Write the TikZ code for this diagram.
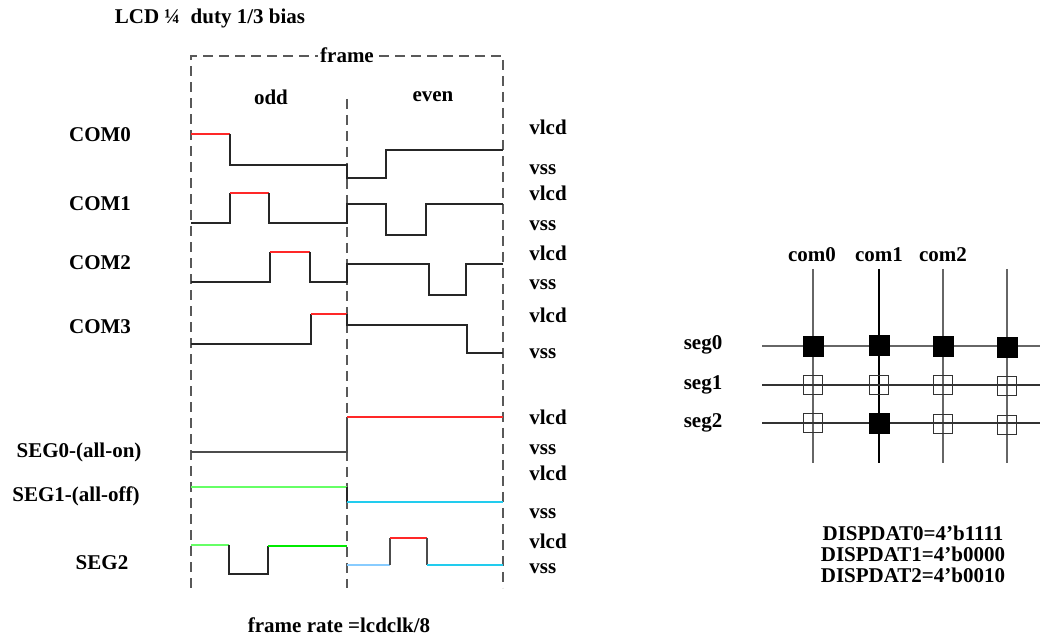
\documentclass[tikz,border=0pt]{standalone}
\usepackage{fontspec}
\setmainfont{Liberation Serif}
\usetikzlibrary{arrows}
\definecolor{lgreen}{RGB}{102,255,102}
\definecolor{dgreen}{RGB}{0,235,0}
\definecolor{wcyan}{RGB}{34,204,238}
\definecolor{lblue}{RGB}{136,204,255}
\definecolor{wred}{RGB}{255,40,40}
\begin{document}
\begin{tikzpicture}[x=0.5pt,y=-0.5pt,
  every node/.style={font=\bfseries\fontsize{10.5}{12}\selectfont,inner sep=0pt},
  frameline/.style={-,line width=0.7pt,black!65,dash pattern=on 5pt off 3pt},
  wave/.style={-,line width=0.6pt,black!85},
  lvl/.style={anchor=west},
  oncell/.style={draw=black,fill=black,minimum size=10pt},
  offcell/.style={draw=black!80,line width=0.6pt,minimum size=9.5pt},
  gridline/.style={-,line width=0.7pt,black!60}]
\useasboundingbox (0,0) rectangle (1040,635);
\node (title) at (210,18) {LCD ¼\ \ duty 1/3 bias};
\draw[frameline] (191,588) -- (191,56) -- (503,56) -- (503,588);
\draw[frameline] (347,99) -- (347,588);
\node[fill=white,inner xsep=1pt] (frame) at (347,55) {frame};
\node (odd) at (271,97) {odd};
\node (even) at (433,97) {even};
\node (com0) at (100,135) {COM0};
\node (com1) at (100,204) {COM1};
\node (com2) at (100,263) {COM2};
\node (com3) at (100,327) {COM3};
\node (seg0) at (79,452) {SEG0-(all-on)};
\node (seg1) at (76,496) {SEG1-(all-off)};
\node (seg2) at (102,563) {SEG2};
\node[lvl] (vlcd0) at (529,127) {vlcd};
\node[lvl] (vss0) at (529,170) {vss};
\node[lvl] (vlcd1) at (529,193) {vlcd};
\node[lvl] (vss1) at (529,226) {vss};
\node[lvl] (vlcd2) at (529,253) {vlcd};
\node[lvl] (vss2) at (529,285) {vss};
\node[lvl] (vlcd3) at (529,315) {vlcd};
\node[lvl] (vss3) at (529,354) {vss};
\node[lvl] (vlcd4) at (529,417) {vlcd};
\node[lvl] (vss4) at (529,450) {vss};
\node[lvl] (vlcd5) at (529,473) {vlcd};
\node[lvl] (vss5) at (529,514) {vss};
\node[lvl] (vlcd6) at (529,541) {vlcd};
\node[lvl] (vss6) at (529,569) {vss};
\draw[wave,wred] (191,134) -- (230,134);
\draw[wave] (230,134) -- (230,165) -- (347,165) -- (347,178) -- (386,178) -- (386,150) -- (503,150);
\draw[wave] (191,223) -- (230,223) -- (230,193);
\draw[wave,wred] (230,193) -- (269,193);
\draw[wave] (269,193) -- (269,223) -- (347,223) -- (347,204) -- (386,204) -- (386,235) -- (426,235) -- (426,204) -- (503,204);
\draw[wave] (191,282) -- (270,282) -- (270,252);
\draw[wave,wred] (270,252) -- (310,252);
\draw[wave] (310,252) -- (310,282) -- (347,282) -- (347,264) -- (429,264) -- (429,295) -- (466,295) -- (466,264) -- (503,264);
\draw[wave] (191,344) -- (311,344) -- (311,314);
\draw[wave,wred] (311,314) -- (347,314);
\draw[wave] (347,314) -- (347,325) -- (467,325) -- (467,353) -- (503,353);
\draw[wave,black!70] (191,452) -- (347,452) -- (347,417);
\draw[wave,wred] (347,417) -- (503,417);
\draw[wave,lgreen,line width=0.9pt] (191,487) -- (347,487);
\draw[wave] (347,487) -- (347,502);
\draw[wave,wcyan] (347,502) -- (503,502);
\draw[wave,lgreen,line width=0.9pt] (191,545) -- (229,545);
\draw[wave] (229,545) -- (229,574) -- (268,574) -- (268,546);
\draw[wave,dgreen] (268,546) -- (347,546);
\draw[wave,lblue] (347,565) -- (390,565);
\draw[wave,black!70] (390,565) -- (390,538);
\draw[wave,wred] (390,538) -- (427,538);
\draw[wave,black!70] (427,538) -- (427,565);
\draw[wave,wcyan] (427,565) -- (503,565);
\node (rate) at (339,625) {frame rate =lcdclk/8};
\draw[gridline] (813,269) -- (813,463);
\draw[gridline,black] (879,269) -- (879,463);
\draw[gridline] (943,269) -- (943,463);
\draw[gridline] (1007,269) -- (1007,463);
\draw[gridline] (762,346) -- (1040,346);
\draw[gridline,black!80] (762,385) -- (1040,385);
\draw[gridline,black!80] (762,423) -- (1040,423);
\node (c0) at (812,255) {com0};
\node (c1) at (879,255) {com1};
\node (c2) at (943,255) {com2};
\node (s0) at (703,345) {seg0};
\node (s1) at (703,385) {seg1};
\node (s2) at (703,423) {seg2};
\node[oncell] (p00) at (813,346) {};
\node[oncell] (p01) at (879,345) {};
\node[oncell] (p02) at (943,346) {};
\node[oncell] (p03) at (1007,347) {};
\node[offcell] (p10) at (813,385) {};
\node[offcell] (p11) at (879,385) {};
\node[offcell] (p12) at (943,385) {};
\node[offcell] (p13) at (1007,386) {};
\node[offcell] (p20) at (813,423) {};
\node[oncell] (p21) at (879,423) {};
\node[offcell] (p22) at (943,424) {};
\node[offcell] (p23) at (1007,425) {};
\node (d0) at (913,533) {DISPDAT0=4'b1111};
\node (d1) at (913,554) {DISPDAT1=4'b0000};
\node (d2) at (913,575) {DISPDAT2=4'b0010};
\end{tikzpicture}
\end{document}
